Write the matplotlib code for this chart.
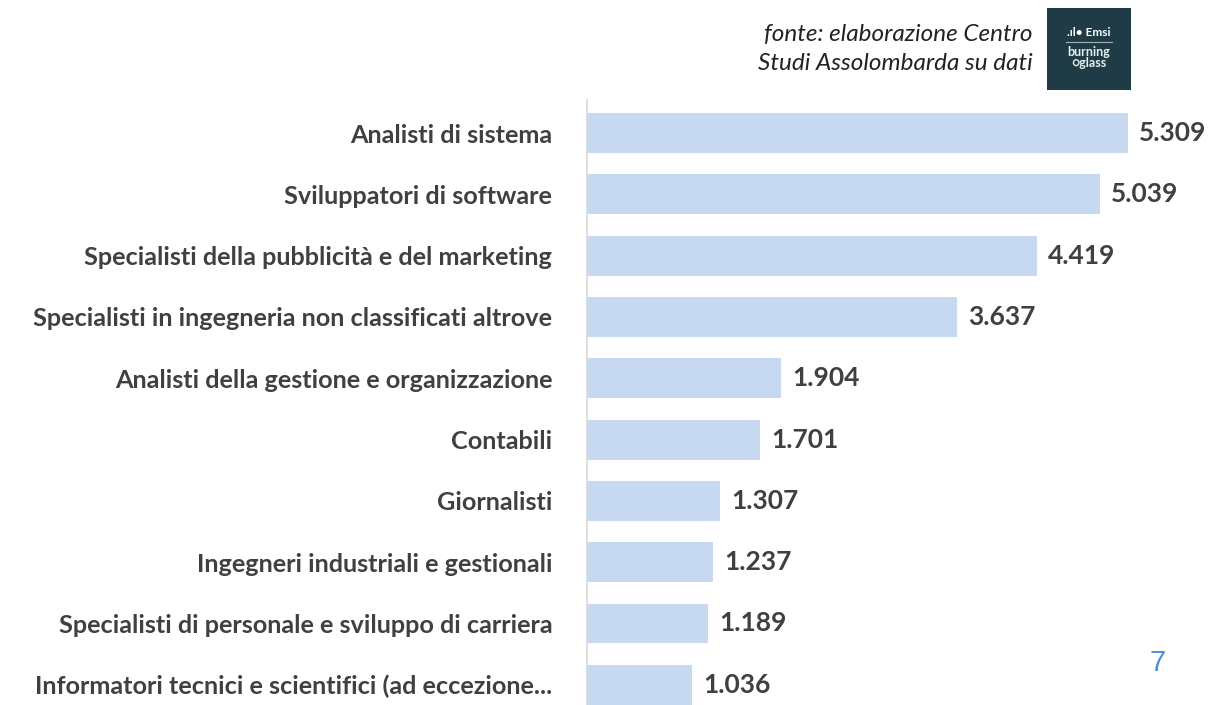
import matplotlib
matplotlib.use("Agg")
import matplotlib.pyplot as plt
from matplotlib.patches import Rectangle

categories = [
    "Analisti di sistema",
    "Sviluppatori di software",
    "Specialisti della pubblicità e del marketing",
    "Specialisti in ingegneria non classificati altrove",
    "Analisti della gestione e organizzazione",
    "Contabili",
    "Giornalisti",
    "Ingegneri industriali e gestionali",
    "Specialisti di personale e sviluppo di carriera",
    "Informatori tecnici e scientifici (ad eccezione...",
]
values = [5309, 5039, 4419, 3637, 1904, 1701, 1307, 1237, 1189, 1036]
value_labels = ["5.309", "5.039", "4.419", "3.637", "1.904", "1.701", "1.307", "1.237", "1.189", "1.036"]

W, H = 1231, 705
fig = plt.figure(figsize=(W / 100, H / 100), dpi=100)
ax = fig.add_axes([587 / W, 0, (1198 - 587) / W, (705 - 100) / H])

ypos = list(range(len(categories)))
ax.barh(ypos, values, height=0.65, color="#c6d9f0", edgecolor="none")
ax.set_xlim(0, 6000)
ax.set_ylim(9.33, -0.54)

ax.set_yticks(ypos)
ax.set_yticklabels(categories, fontsize=18.2, fontweight="bold", color="#404040", family="Lato")
ax.tick_params(axis="y", length=0, pad=25)
ax.set_xticks([])
for s in ["top", "right", "bottom"]:
    ax.spines[s].set_visible(False)
ax.spines["left"].set_color("#d9d9d9")
ax.spines["left"].set_linewidth(1.2)

for y, v, lab in zip(ypos, values, value_labels):
    ax.text(v + 110, y, lab, va="center", ha="left", fontsize=19,
            fontweight="bold", color="#404040", family="Lato")

fig.text(1033 / W, 1 - 35 / H, "fonte: elaborazione Centro", ha="right", va="center",
         fontsize=17.5, style="italic", color="#222222", family="Lato")
fig.text(1033 / W, 1 - 63 / H, "Studi Assolombarda su dati", ha="right", va="center",
         fontsize=17.5, style="italic", color="#222222", family="Lato")

fig.patches.append(Rectangle((1047 / W, 1 - 90 / H), 84 / W, 82 / H,
                             transform=fig.transFigure, facecolor="#1f3b46", edgecolor="none"))
fig.text(1089 / W, 1 - 33 / H, ".ıl• Emsi", ha="center", va="center", fontsize=8.5,
         fontweight="bold", color="white", family="Lato")
fig.lines.append(plt.Line2D([1066 / W, 1112 / W], [1 - 42 / H, 1 - 42 / H],
                            transform=fig.transFigure, color="#9fb3ba", lw=0.8))
fig.text(1089 / W, 1 - 52 / H, "burning", ha="center", va="center", fontsize=9,
         fontweight="bold", color="#e8eef0", family="Lato")
fig.text(1089 / W, 1 - 63 / H, "\u25cbglass", ha="center", va="center", fontsize=9,
         fontweight="bold", color="#e8eef0", family="Lato")

fig.text(1158 / W, 1 - 663 / H, "7", ha="center", va="center", fontsize=21,
         color="#4a8fd9", family="Liberation Sans")

fig.savefig("out.png", dpi=100)
